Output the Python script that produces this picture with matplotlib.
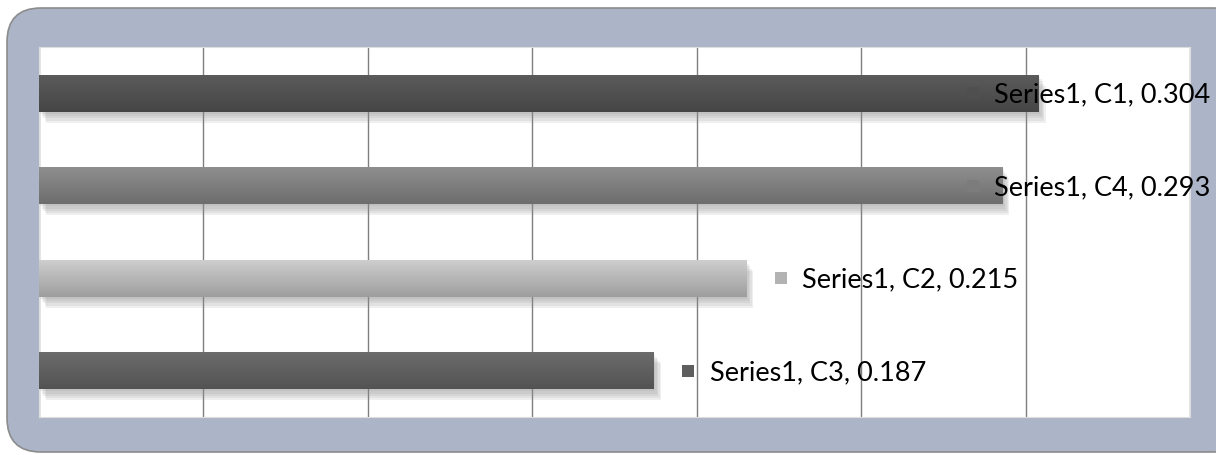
import numpy as np
from matplotlib import pyplot as plt
from matplotlib import patheffects as pe
from matplotlib import transforms
from matplotlib.patches import FancyBboxPatch

# data, top to bottom
categories = ['C1', 'C4', 'C2', 'C3']
values = [0.304, 0.293, 0.215, 0.187]
series_name = 'Series1'
bar_colors = ['#4f4f4f', '#7c7c7c', '#b3b3b3', '#5e5e5e']

fig = plt.figure(figsize=(12.16, 4.55), dpi=100)

# rounded chart border (pixel coords, origin bottom-left)
frame = FancyBboxPatch((7, 3), 1240, 444,
                       boxstyle='round,pad=0,rounding_size=34',
                       transform=transforms.IdentityTransform(), facecolor='#abb5c7',
                       edgecolor='#8c8c8c', linewidth=1.2, zorder=-5)
fig.patches.append(frame)

ax = fig.add_axes([39 / 1216, 38 / 455, 1151 / 1216, 370 / 455])
ax.set_zorder(1)
ax.set_facecolor('white')
ax.set_xticks(np.arange(0, 0.351, 0.05))
ax.set_yticks([])
ax.tick_params(axis='x', length=0, labelbottom=False)
ax.grid(axis='x', color='#7f7f7f', linewidth=1.0)
ax.set_axisbelow(True)
for s in ax.spines.values():
    s.set_color('#dddddd')
    s.set_linewidth(0.8)

y = np.arange(len(categories))
bars = ax.barh(y, values, height=0.4, color=bar_colors, edgecolor='none', zorder=2)

# soft drop shadow + vertical gradient on each bar
shadow = [pe.SimplePatchShadow(offset=(o, -1.6 * o), shadow_rgbFace='#8a8a8a', alpha=0.13)
          for o in (1, 2, 3, 4, 5)]
grad = np.linspace(0, 1, 64).reshape(-1, 1)
for bar, c in zip(bars, bar_colors):
    bar.set_path_effects(shadow + [pe.Normal()])
    base = np.array(plt.matplotlib.colors.to_rgb(c))
    top = np.clip(base * 1.15, 0, 1)
    bot = base * 0.88
    img = top[None, None, :] * (1 - grad[:, :, None]) + bot[None, None, :] * grad[:, :, None]
    x0, y0 = bar.get_x(), bar.get_y()
    im = ax.imshow(img, extent=(x0, x0 + bar.get_width(), y0 + bar.get_height(), y0),
                   aspect='auto', zorder=3, interpolation='bilinear')
    im.set_clip_path(bar)

ax.set_xlim(0, 0.35)
ax.set_ylim(3.5, -0.5)

# data labels with key squares, kept inside the chart
for yi, v, cat, c in zip(y, values, categories, bar_colors):
    mx = min(v + 0.0085, 0.282)
    ax.plot(mx + 0.002, yi, marker='s', markersize=9, color=c, markeredgewidth=0,
            zorder=4, clip_on=False)
    ax.text(mx + 0.0085, yi + 0.02, f'{series_name}, {cat}, {v:.3f}', fontsize=19.5,
            family='Lato', color='#000000', va='center', ha='left', zorder=5, clip_on=False)

fig.savefig('out.png', dpi=100)
